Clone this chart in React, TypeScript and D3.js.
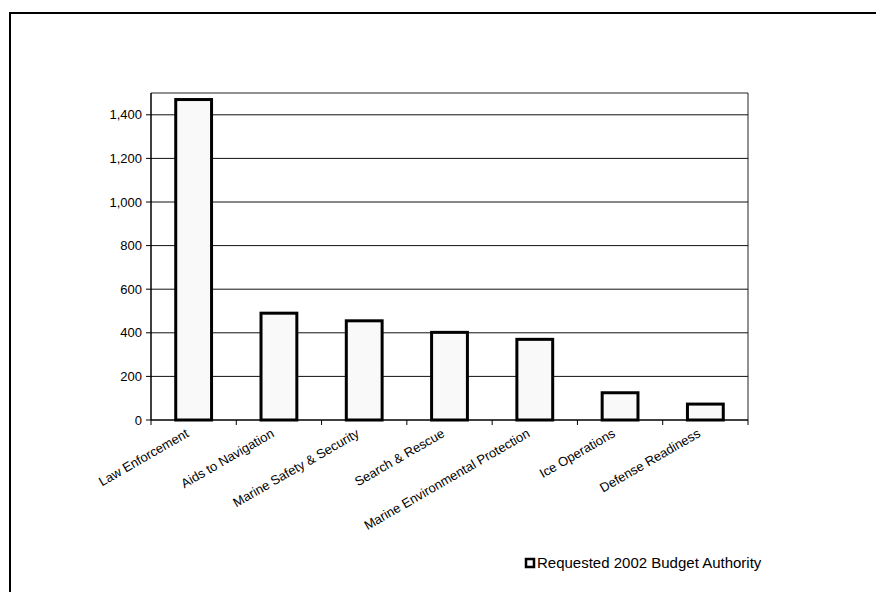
import { useEffect } from "react";
import * as d3 from "d3";

const categories = [
  "Law Enforcement",
  "Aids to Navigation",
  "Marine Safety & Security",
  "Search & Rescue",
  "Marine Environmental Protection",
  "Ice Operations",
  "Defense Readiness",
];
const budgetValues = [1470, 490, 455, 402, 370, 125, 73];
const yTicks = [0, 200, 400, 600, 800, 1000, 1200, 1400];
const seriesName = "Requested 2002 Budget Authority";

export default function App() {
  useEffect(() => {
    document.body.style.margin = "0";
  }, []);

  const width = 876;
  const height = 592;
  const plot = { left: 151, right: 748, top: 93, bottom: 420 };
  const font = "'Liberation Sans', Arial, sans-serif";

  const x = d3.scaleBand().domain(categories).range([plot.left, plot.right]).paddingInner(0.58).paddingOuter(0.29);
  const y = d3.scaleLinear().domain([0, 1500]).range([plot.bottom, plot.top]);
  const boundaries = d3.range(categories.length + 1).map((i) => plot.left + (i * (plot.right - plot.left)) / categories.length);

  return (
    <svg width={width} height={height} style={{ display: "block", background: "#fff" }}>
      {/* outer frame, cut off at right and bottom */}
      <path d={`M10,${height} V13 H${width}`} fill="none" stroke="#000" strokeWidth={2} />

      {/* plot area border */}
      <path d={`M${plot.left},${plot.top} H${plot.right} V${plot.bottom}`} fill="none" stroke="#222" strokeWidth={1} />

      {/* gridlines */}
      {yTicks.slice(1).map((t) => (
        <line key={`g${t}`} x1={plot.left} x2={plot.right} y1={y(t)} y2={y(t)} stroke="#111" strokeWidth={1} />
      ))}

      {/* bars */}
      {categories.map((c, i) => (
        <rect
          key={c}
          x={x(c)}
          y={y(budgetValues[i])}
          width={x.bandwidth()}
          height={y(0) - y(budgetValues[i])}
          fill="#f9f9f9"
          stroke="#000"
          strokeWidth={3}
        />
      ))}

      {/* y axis */}
      <line x1={plot.left} x2={plot.left} y1={plot.top} y2={plot.bottom} stroke="#000" strokeWidth={1.5} />
      {yTicks.map((t) => (
        <g key={`t${t}`}>
          <line x1={plot.left - 5} x2={plot.left} y1={y(t)} y2={y(t)} stroke="#000" strokeWidth={1} />
          <text x={plot.left - 9} y={y(t)} dy="0.35em" textAnchor="end" fontFamily={font} fontSize={13}>
            {d3.format(",")(t)}
          </text>
        </g>
      ))}

      {/* x axis */}
      <line x1={plot.left} x2={plot.right} y1={plot.bottom} y2={plot.bottom} stroke="#000" strokeWidth={1.5} />
      {boundaries.map((b, i) => (
        <line key={`xb${i}`} x1={b} x2={b} y1={plot.bottom} y2={plot.bottom + 5} stroke="#000" strokeWidth={1} />
      ))}
      {categories.map((c) => {
        const cx = (x(c) ?? 0) + x.bandwidth() / 2 - 4;
        const cy = plot.bottom + 16;
        return (
          <text
            key={`l${c}`}
            x={cx}
            y={cy}
            textAnchor="end"
            fontFamily={font}
            fontSize={13}
            transform={`rotate(-30, ${cx}, ${cy})`}
          >
            {c}
          </text>
        );
      })}

      {/* legend */}
      <rect x={526} y={559} width={8} height={8} fill="#f9f9f9" stroke="#000" strokeWidth={2.5} />
      <text x={537} y={568} fontFamily={font} fontSize={15}>
        {seriesName}
      </text>
    </svg>
  );
}
